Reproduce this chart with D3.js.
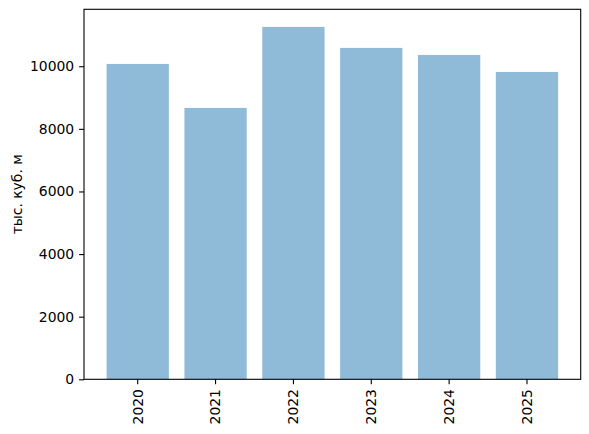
<!DOCTYPE html>
<html>
<head>
<meta charset="utf-8">
<script src="https://cdn.jsdelivr.net/npm/d3@7"></script>
<style>
  body { margin: 0; background: #fff; }
  text { font-family: "DejaVu Sans", sans-serif; }
</style>
</head>
<body>
<svg id="chart" width="589" height="434"></svg>
<script>
const years = ["2020", "2021", "2022", "2023", "2024", "2025"];
const values = [10073, 8668, 11256, 10585, 10361, 9818];
const yTicks = [0, 2000, 4000, 6000, 8000, 10000];
const yLabel = "тыс. куб. м";

(function () {
const svg = d3.select("#chart");
const mLeft = 84, mRight = 580.7, mTop = 9.3, mBottom = 379.3;
const fs = 13.9;

const x = d3.scaleBand().domain(years).range([mLeft, mRight]).paddingInner(0.2).paddingOuter(0.29);
const y = d3.scaleLinear().domain([0, d3.max(values) * 1.05]).range([mBottom, mTop]);

svg.append("g").selectAll("rect").data(years).join("rect")
  .attr("x", d => x(d))
  .attr("width", x.bandwidth())
  .attr("y", (d, i) => y(values[i]))
  .attr("height", (d, i) => mBottom - y(values[i]))
  .attr("fill", "#1f77b4").attr("fill-opacity", 0.5);

// frame
svg.append("rect").attr("x", mLeft).attr("y", mTop)
  .attr("width", mRight - mLeft).attr("height", mBottom - mTop)
  .attr("fill", "none").attr("stroke", "#000").attr("stroke-width", 1.1);

const yAxis = svg.append("g").attr("transform", `translate(${mLeft},0)`)
  .call(d3.axisLeft(y).tickValues(yTicks).tickFormat(d3.format("d")).tickSize(4.9).tickPadding(4.9));
yAxis.select(".domain").remove();
yAxis.selectAll("line").attr("stroke-width", 1.1);
yAxis.selectAll("text").attr("font-size", fs).attr("fill", "#000")
  .attr("font-family", "DejaVu Sans");

const xAxis = svg.append("g").attr("transform", `translate(0,${mBottom})`)
  .call(d3.axisBottom(x).tickSize(4.9).tickPadding(4.9));
xAxis.select(".domain").remove();
xAxis.selectAll("line").attr("stroke-width", 1.1);
xAxis.selectAll("text").attr("font-size", fs).attr("fill", "#000")
  .attr("font-family", "DejaVu Sans")
  .attr("transform", "rotate(-90)")
  .attr("text-anchor", "end")
  .attr("x", -9.8).attr("y", 0).attr("dy", "0.35em");

svg.append("text")
  .attr("transform", `translate(22,${(mTop + mBottom) / 2}) rotate(-90)`)
  .attr("text-anchor", "middle")
  .attr("font-size", fs)
  .attr("fill", "#000")
  .text(yLabel);
})();
</script>
</body>
</html>
